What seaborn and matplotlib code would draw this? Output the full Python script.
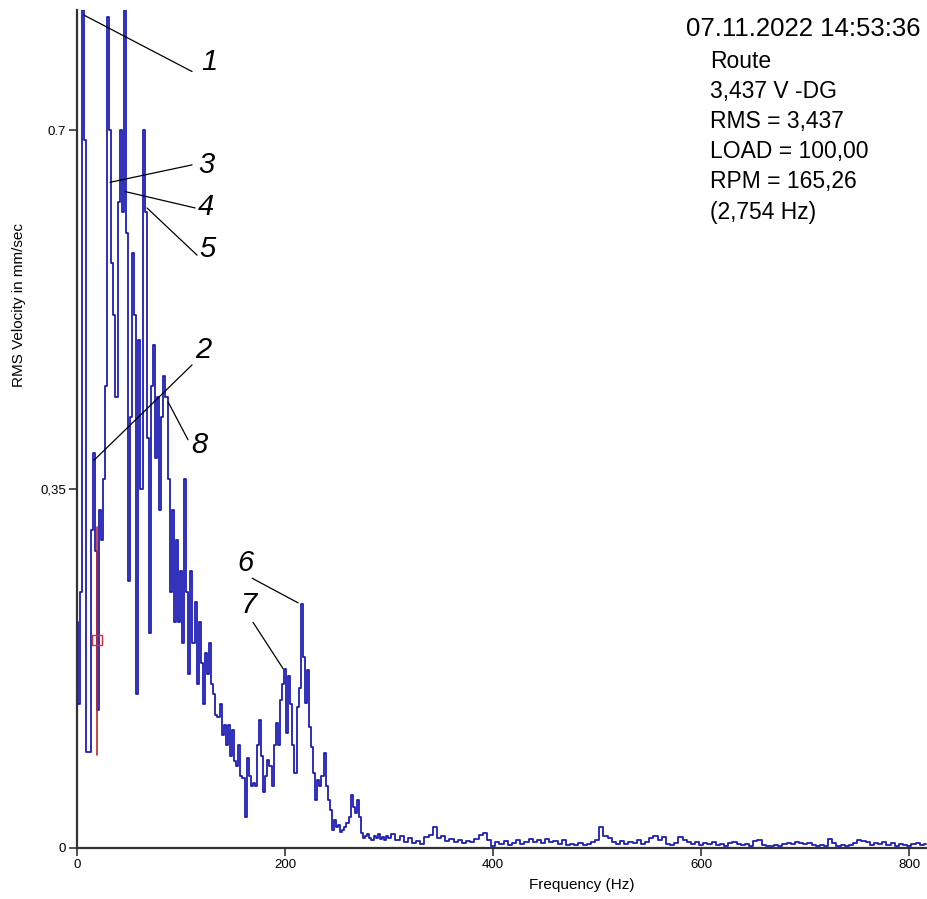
import numpy as np
import pandas as pd
import matplotlib
matplotlib.use("Agg")
import matplotlib.pyplot as plt
import seaborn as sns

# Velocity spectrum, 2 Hz lines from 0 to 298 Hz
low_band = [
    0.22, 0.14, 0.25, 0.90, 0.69, 0.094, 0.094, 0.31, 0.385, 0.29,
    0.135, 0.33, 0.30, 0.36, 0.45, 0.81, 0.70, 0.57, 0.52, 0.44,
    0.63, 0.70, 0.62, 0.95, 0.60, 0.26, 0.42, 0.58, 0.52, 0.15,
    0.495, 0.35, 0.70, 0.62, 0.40, 0.21, 0.45, 0.49, 0.38, 0.44,
    0.33, 0.42, 0.46, 0.44, 0.36, 0.25, 0.33, 0.22, 0.30, 0.22,
    0.27, 0.20, 0.36, 0.25, 0.17, 0.27, 0.20, 0.24, 0.16, 0.22,
    0.18, 0.14, 0.19, 0.17, 0.20, 0.16, 0.15, 0.13, 0.128, 0.14,
    0.11, 0.12, 0.10, 0.12, 0.09, 0.115, 0.085, 0.08, 0.10, 0.07,
    0.068, 0.03, 0.088, 0.07, 0.06, 0.063, 0.06, 0.10, 0.125, 0.09,
    0.055, 0.07, 0.086, 0.08, 0.06, 0.10, 0.122, 0.10, 0.144, 0.16,
    0.175, 0.112, 0.168, 0.14, 0.10, 0.073, 0.137, 0.156, 0.238, 0.186,
    0.141, 0.174, 0.118, 0.098, 0.073, 0.047, 0.066, 0.06, 0.07, 0.093,
    0.06, 0.047, 0.037, 0.018, 0.027, 0.02, 0.022, 0.016, 0.018, 0.02,
    0.024, 0.03, 0.052, 0.04, 0.034, 0.047, 0.03, 0.015, 0.01, 0.012,
    0.014, 0.01, 0.008, 0.012, 0.01, 0.014, 0.009, 0.011, 0.008, 0.012,
]

# 4 Hz lines from 300 Hz upward
high_band = [
    0.010, 0.014, 0.008, 0.012, 0.006, 0.010, 0.005, 0.007, 0.004, 0.011,
    0.013, 0.020, 0.010, 0.012, 0.007, 0.009, 0.006, 0.008, 0.005, 0.007,
    0.006, 0.009, 0.013, 0.015, 0.008, 0.002, 0.006, 0.004, 0.007, 0.003,
    0.005, 0.008, 0.004, 0.006, 0.009, 0.006, 0.008, 0.005, 0.009, 0.006,
    0.007, 0.004, 0.008, 0.003, 0.004, 0.003, 0.005, 0.003, 0.004, 0.006,
    0.008, 0.020, 0.012, 0.010, 0.006, 0.004, 0.007, 0.004, 0.006, 0.005,
    0.008, 0.004, 0.006, 0.010, 0.012, 0.008, 0.011, 0.004, 0.003, 0.005,
    0.011, 0.008, 0.006, 0.004, 0.006, 0.003, 0.005, 0.004, 0.006, 0.003,
    0.004, 0.002, 0.005, 0.006, 0.004, 0.003, 0.004, 0.002, 0.007, 0.008,
    0.003, 0.002, 0.002, 0.003, 0.002, 0.004, 0.005, 0.004, 0.006, 0.005,
    0.004, 0.005, 0.003, 0.002, 0.003, 0.002, 0.009, 0.005, 0.002, 0.003,
    0.002, 0.003, 0.005, 0.008, 0.007, 0.006, 0.003, 0.005, 0.004, 0.006,
    0.003, 0.005, 0.002, 0.004, 0.003, 0.002, 0.004, 0.005, 0.003, 0.004,
]

# cursor at the 1x running-speed line
cursor_freq = 19.0
cursor_low, cursor_high = 0.091, 0.313
cursor_mark = 0.203

# numbered peaks: label, peak (Hz, mm/s), leader end, text position
peak_labels = ["1", "2", "3", "4", "5", "6", "7", "8"]
peak_points = [(6.7, 0.812), (16.3, 0.378), (31.7, 0.649), (46.2, 0.640),
               (67.3, 0.624), (212.5, 0.239), (198.0, 0.175), (87.5, 0.435)]
leader_ends = [(110.6, 0.757), (110.6, 0.471), (110.6, 0.666), (113.5, 0.624),
               (115.4, 0.578), (168.3, 0.263), (169.2, 0.220), (106.7, 0.398)]
label_pos = [(127.0, 0.766), (121.5, 0.486), (124.0, 0.666), (124.0, 0.625),
             (125.0, 0.584), (161.5, 0.278), (165.5, 0.237), (117.5, 0.393)]

xticks = [0, 200, 400, 600, 800]
yticks = [0.0, 0.35, 0.7]
ytick_labels = ["0", "0,35", "0.7"]

header = "07.11.2022 14:53:36"
info_lines = ["Route", "3,437 V -DG", "RMS = 3,437", "LOAD = 100,00",
              "RPM = 165,26", "(2,754 Hz)"]

freq = np.concatenate([2.0 * np.arange(len(low_band)),
                       300.0 + 4.0 * np.arange(len(high_band))])
spectrum = pd.DataFrame({"Frequency (Hz)": freq,
                         "RMS Velocity in mm/sec": low_band + high_band})

sns.set_theme(style="white")
plt.rcParams["font.family"] = ["Liberation Sans", "DejaVu Sans"]

fig = plt.figure(figsize=(9.27, 8.99), dpi=100)
W, H = 927, 899
ax = fig.add_axes([77 / W, 51 / H, 850 / W, 838 / H])

sns.lineplot(data=spectrum, x="Frequency (Hz)", y="RMS Velocity in mm/sec",
             ax=ax, color="#1e1eb4", linewidth=1.3, drawstyle="steps-mid",
             errorbar=None)

ax.set_xlim(0, 817)
ax.set_ylim(0, 0.817)

# cursor
ax.plot([cursor_freq, cursor_freq], [cursor_low, cursor_high],
        color="#c0282a", lw=1.2, zorder=4)
ax.plot([cursor_freq], [cursor_mark], marker="s", ms=7, mfc="none",
        mec="#d03030", mew=1.0, zorder=5)

# numbered peak callouts
for lab, pt, end, pos in zip(peak_labels, peak_points, leader_ends, label_pos):
    ax.plot([pt[0], end[0]], [pt[1], end[1]], color="black", lw=0.9, zorder=6)
    ax.text(pos[0], pos[1], lab, fontsize=21, style="italic",
            ha="center", va="center", color="black", zorder=6)

# axes styling
for side in ["top", "right"]:
    ax.spines[side].set_visible(False)
for side in ["left", "bottom"]:
    ax.spines[side].set_color("#333333")
    ax.spines[side].set_linewidth(1.6)

ax.set_xticks(xticks)
ax.set_xticklabels([str(t) for t in xticks])
ax.set_yticks(yticks)
ax.set_yticklabels(ytick_labels)
ax.tick_params(axis="both", which="major", direction="out", length=6,
               width=1.2, color="#333333", labelsize=9.5, labelcolor="black",
               pad=2, bottom=True, left=True)

ax.set_xlabel("Frequency (Hz)", fontsize=11, color="black")
ax.set_ylabel("RMS Velocity in mm/sec", fontsize=11, color="black")
ax.xaxis.set_label_coords((582 - 77) / 850, -(878 - 848) / 838)
ax.yaxis.set_label_coords(-(77 - 26) / 850, (848 - 305) / 838)

# header and measurement info
fig.text(920 / W, 1 - 29 / H, header, fontsize=18.5, ha="right", va="center",
         color="black")
for i, line in enumerate(info_lines):
    fig.text(710 / W, 1 - (61 + 30.2 * i) / H, line, fontsize=16.5,
             ha="left", va="center", color="black")

fig.savefig("out.png", dpi=100, facecolor="white")
